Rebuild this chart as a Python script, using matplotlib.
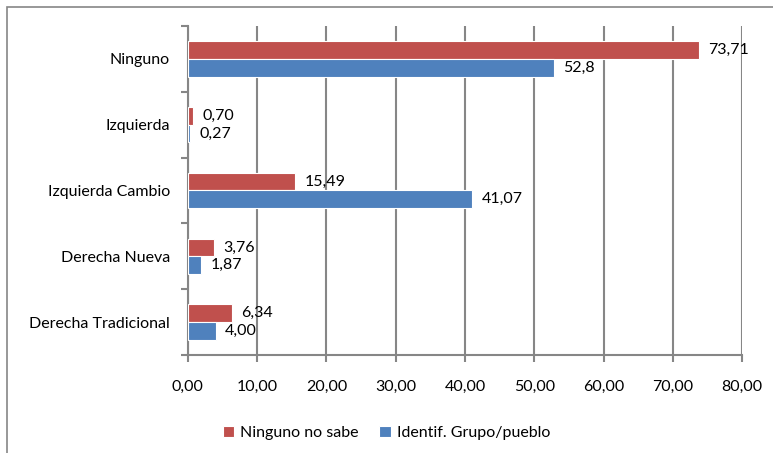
import matplotlib
matplotlib.use("Agg")
import matplotlib.pyplot as plt
import numpy as np
from matplotlib.patches import Rectangle

categories = ["Ninguno", "Izquierda", "Izquierda Cambio", "Derecha Nueva", "Derecha Tradicional"]
ninguno_no_sabe = [73.71, 0.70, 15.49, 3.76, 6.34]
identif_grupo = [52.8, 0.27, 41.07, 1.87, 4.00]
labels_red = ["73,71", "0,70", "15,49", "3,76", "6,34"]
labels_blue = ["52,8", "0,27", "41,07", "1,87", "4,00"]
xticks = [0, 10, 20, 30, 40, 50, 60, 70, 80]

RED, BLUE, GRIDC = "#C0504D", "#4F81BD", "#868686"
FS = 11.5

plt.rcParams["font.family"] = ["Lato", "DejaVu Sans"]

fig = plt.figure(figsize=(7.73, 4.53), dpi=100)
ax = fig.add_axes([0.243, 0.216, 0.717, 0.727])

n = len(categories)
y = np.arange(n)[::-1].astype(float)
h = 0.27
ax.barh(y + h / 2, ninguno_no_sabe, height=h, color=RED, edgecolor="white", linewidth=0.8,
        label="Ninguno no sabe", zorder=3)
ax.barh(y - h / 2, identif_grupo, height=h, color=BLUE, edgecolor="white", linewidth=0.8,
        label="Identif. Grupo/pueblo", zorder=3)

for yi, v, s in zip(y, ninguno_no_sabe, labels_red):
    ax.annotate(s, (v, yi + h / 2), xytext=(7, 0), textcoords="offset points",
                va="center", ha="left", fontsize=FS, color="black")
for yi, v, s in zip(y, identif_grupo, labels_blue):
    ax.annotate(s, (v, yi - h / 2), xytext=(7, 0), textcoords="offset points",
                va="center", ha="left", fontsize=FS, color="black")

ax.set_xlim(0, 80)
ax.set_ylim(-0.5, n - 0.5)
ax.set_xticks(xticks)
ax.set_xticklabels([f"{t:.2f}".replace(".", ",") for t in xticks], fontsize=FS)
ax.set_yticks(y)
ax.set_yticklabels(categories, fontsize=FS)
ax.set_yticks(np.arange(n + 1) - 0.5, minor=True)
ax.tick_params(axis="y", which="major", length=0, pad=13)
ax.tick_params(axis="y", which="minor", length=5, width=1.5, color=GRIDC, direction="out")
ax.tick_params(axis="x", length=5, width=1.5, color=GRIDC, pad=13)
ax.grid(axis="x", color=GRIDC, linewidth=1.5, zorder=0)
ax.set_axisbelow(True)
for side in ("top", "right"):
    ax.spines[side].set_visible(False)
for side in ("left", "bottom"):
    ax.spines[side].set_color(GRIDC)
    ax.spines[side].set_linewidth(1.5)

leg = fig.legend(loc="center", bbox_to_anchor=(0.5, 0.044), ncol=2, frameon=False,
                 fontsize=FS, handlelength=0.7, handleheight=0.7, handletextpad=0.4,
                 columnspacing=1.3)

fig.patches.append(Rectangle((7 / 773, -0.1), 1.2, 1 - 7 / 453 + 0.1, transform=fig.transFigure,
                             fill=False, edgecolor="#868686", linewidth=1.2))

fig.savefig("out.png", dpi=100)
